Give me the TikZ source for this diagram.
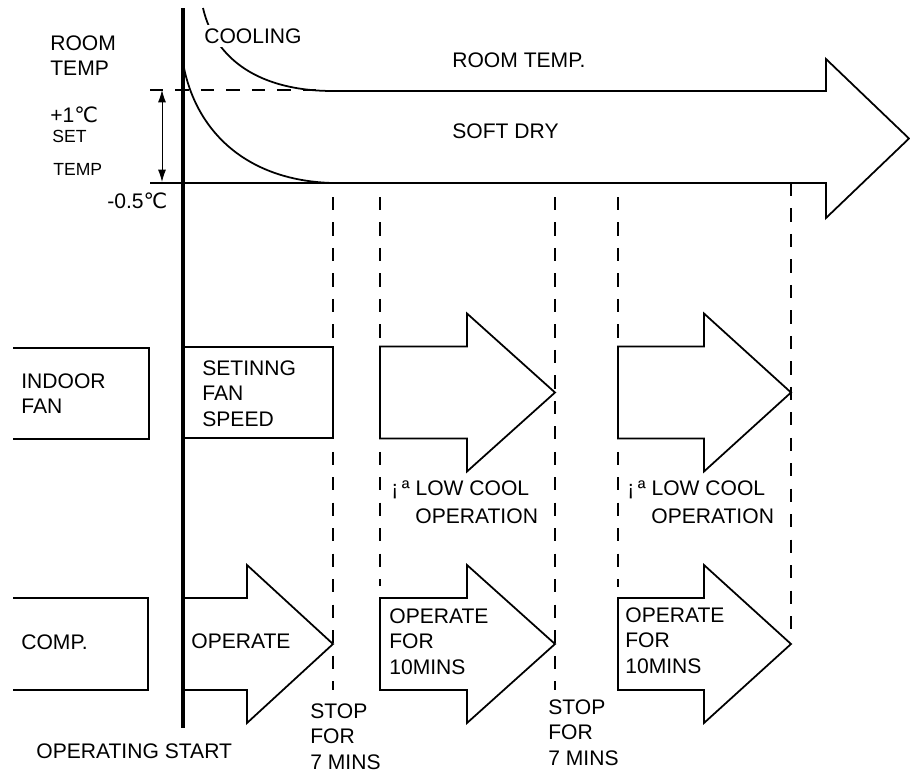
\documentclass[tikz,border=0pt]{standalone}
\usepackage{fontspec}
\setmainfont{Liberation Sans}
\newfontfamily\degfont{DejaVu Sans}
\usepackage{tikz}
\usetikzlibrary{arrows.meta, positioning}

% block arrow: left x, head base x, tip x, centre y
\newcommand{\blockarrow}[4]{%
  \draw[outline] (#1,#4-46) -- (#2,#4-46) -- (#2,#4-79) -- (#3,#4)
    -- (#2,#4+79) -- (#2,#4+46) -- (#1,#4+46) -- cycle;
}

\begin{document}
\begin{tikzpicture}[x=0.02cm, y=-0.02cm,
  outline/.style={draw, line width=1pt, line join=miter},
  guide/.style={draw, line width=0.6pt, dash pattern=on 7.5pt off 7pt},
  lbl/.style={anchor=north west, inner sep=0pt, align=left, font=\fontsize{12}{14.5}\selectfont},
  small/.style={lbl, font=\fontsize{10}{12}\selectfont},
  dim/.style={{Latex[length=7pt,width=4.5pt]}-{Latex[length=7pt,width=4.5pt]}, line width=0.5pt}
]
\useasboundingbox (0,0) rectangle (910,771);

% time marks
\foreach \x/\ya/\yb in {333/197/690, 380/197/586, 555/197/690, 618/197/587, 791/183/640}
  \draw[guide] (\x,\ya) -- (\x,\yb);

% temperature part
\draw[guide] (150,90) -- (322,90);
\draw[outline] (333,91) -- (826,91) -- (826,59) -- (909,138.5) -- (826,218) -- (826,183) -- (150,183);
\draw[outline] (203,8) .. controls (215,60) and (260,91) .. (333,91);
\draw[outline] (184,68) .. controls (198,135) and (250,181) .. (333,183);
\coordinate (hi) at (162,90);
\coordinate (lo) at (162,182);
\draw[dim] (hi) -- (lo);

\node[lbl] (roomlbl) at (50,35) {ROOM\\TEMP};
\node[lbl] (plusone) at (50,106) {+1{\degfont ℃}};
\node[small] (setlbl) at (52,130) {SET};
\node[small] (templbl) at (53,163) {TEMP};
\node[lbl] (minuslbl) at (107,192) {-0.5{\degfont ℃}};
\node[lbl, fill=white, inner sep=2pt] (cooling) at (200.5,24.5) {COOLING};
\node[lbl] (roomtemp) at (452,52) {ROOM TEMP.};
\node[lbl] (softdry) at (452,123) {SOFT DRY};

% indoor fan row
\draw[outline] (13,348) -- (149,348) -- (149,439) -- (13,439);
\draw[outline] (183,347) -- (333,347) -- (333,438) -- (183,438);
\blockarrow{380}{467}{555}{392.5}
\blockarrow{618}{704}{791}{392.5}
\node[lbl] (indoor) at (21,373) {INDOOR\\FAN};
\node[lbl] (setting) at (202,360) {SETINNG\\FAN\\SPEED};
\node[lbl] (lowa) at (391,480) {¡\,ª LOW COOL};
\node[lbl] (opera) at (415,508) {OPERATION};
\node[lbl] (lowb) at (627,480) {¡\,ª LOW COOL};
\node[lbl] (operb) at (651,508) {OPERATION};

% compressor row
\draw[outline] (13,598) -- (148,598) -- (148,690) -- (13,690);
\blockarrow{183}{247}{333}{644}
\blockarrow{380}{467}{555}{644}
\blockarrow{618}{704}{791}{644}
\node[lbl] (comp) at (21,634) {COMP.};
\node[lbl] (operate) at (191,633) {OPERATE};
\node[lbl] (opfora) at (389,608) {OPERATE\\FOR\\10MINS};
\node[lbl] (opforb) at (625,607) {OPERATE\\FOR\\10MINS};

\node[lbl] (stopa) at (310,703) {STOP\\FOR\\7 MINS};
\node[lbl] (stopb) at (548,699) {STOP\\FOR\\7 MINS};
\node[lbl] (start) at (36,743) {OPERATING START};

% start line
\draw[line width=2.3pt] (183,8) -- (183,728);

\end{tikzpicture}
\end{document}
